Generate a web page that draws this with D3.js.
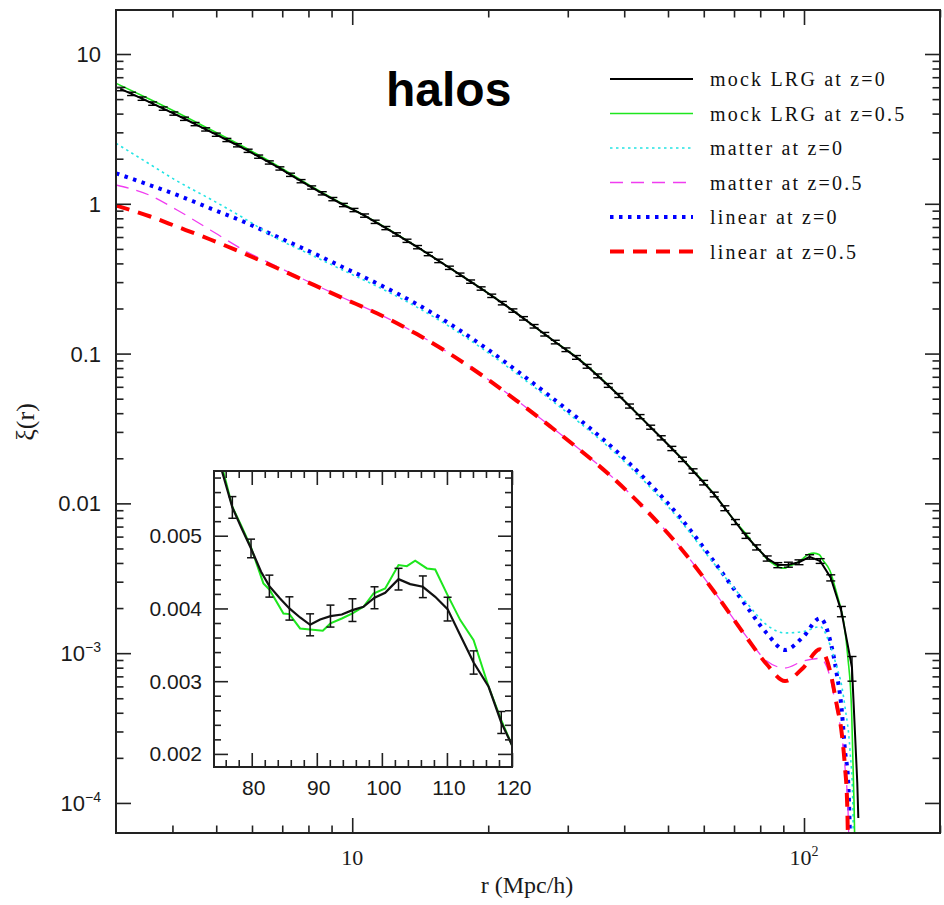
<!DOCTYPE html>
<html>
<head>
<meta charset="utf-8">
<script src="https://cdn.jsdelivr.net/npm/d3@7/dist/d3.min.js"></script>
<style>
  body { margin: 0; background: #fff; }
</style>
</head>
<body>
<svg id="graphique" width="944" height="905"></svg>
<script>
// ---- données ----

// mock LRG z=0 (points avec barres d'erreur)
const lrgR = [3.076, 3.248, 3.427, 3.617, 3.817, 4.029, 4.254, 4.489, 4.738, 5.002,
  5.279, 5.572, 5.883, 6.208, 6.554, 6.917, 7.301, 7.705, 8.133, 8.584,
  9.060, 9.562, 10.09, 10.65, 11.24, 11.87, 12.53, 13.22, 13.95, 14.73,
  15.54, 16.41, 17.32, 18.28, 19.29, 20.36, 21.49, 22.68, 23.94, 25.27,
  26.68, 28.15, 29.72, 31.36, 33.11, 34.94, 36.88, 38.92, 41.09, 43.36,
  45.77, 48.31, 50.99, 53.82, 56.81, 59.96, 63.29, 66.80, 70.51, 74.41,
  78.55, 82.90, 87.50, 92.35, 97.48, 102.9, 108.6, 114.6, 121.0, 127.7];
const lrgXi = [5.834, 5.420, 5.036, 4.667, 4.322, 4.004, 3.696, 3.406, 3.138, 2.893,
  2.667, 2.460, 2.259, 2.065, 1.888, 1.722, 1.562, 1.416, 1.285, 1.175,
  1.075, 0.9817, 0.9087, 0.8344, 0.7582, 0.6886, 0.6245, 0.5664, 0.5136, 0.4622,
  0.4157, 0.3740, 0.3363, 0.3024, 0.2720, 0.2431, 0.2171, 0.1937, 0.1719, 0.1522,
  0.1347, 0.1194, 0.1061, 0.09432, 0.08227, 0.07101, 0.06131, 0.05253, 0.04466, 0.03795,
  0.03226, 0.02740, 0.02326, 0.01968, 0.01645, 0.01376, 0.01147, 0.009284, 0.007511, 0.006078,
  0.005085, 0.004287, 0.003871, 0.003898, 0.004046, 0.00439, 0.004124, 0.003185, 0.00190, 0.00080];
const lrgErr = [0.15, 0.14, 0.13, 0.12, 0.11, 0.10, 0.093, 0.085, 0.078, 0.072,
  0.066, 0.061, 0.056, 0.051, 0.047, 0.043, 0.039, 0.035, 0.032, 0.029,
  0.027, 0.025, 0.023, 0.021, 0.019, 0.017, 0.016, 0.014, 0.013, 0.012,
  0.011, 0.0095, 0.0085, 0.0077, 0.0070, 0.0063, 0.0057, 0.0051, 0.0046, 0.0041,
  0.0037, 0.0033, 0.0030, 0.0027, 0.0024, 0.0021, 0.0018, 0.0016, 0.0014, 0.0012,
  0.0010, 0.00088, 0.00076, 0.00066, 0.00056, 0.00048, 0.00041, 0.00035, 0.00029, 0.00024,
  0.00020, 0.00017, 0.00015, 0.00015, 0.00015, 0.00015, 0.00015, 0.00015, 0.00015, 0.00015];
// fin de la courbe noire (sans barres)
const lrgTailR = [129.7, 131.2, 131.9];
const lrgTailXi = [0.00029, 0.000136, 0.0000794];

// mock LRG z=0.5
const lrg05R = [3.0, 3.573, 4.095, 4.851, 5.747, 6.813, 8.074, 9.567, 11.34, 13.90,
  16.48, 19.52, 23.14, 27.43, 31.95, 37.85, 44.87, 53.18, 63.04, 70.51,
  75.64, 77.02, 79.89, 82.71, 85.79, 88.97, 90.92, 92.10, 95.48, 98.71,
  102.56, 105.12, 108.20, 110.10, 114.10, 118.35, 120.0, 122.5, 125.0, 127.5, 129.0, 129.6];
const lrg05Xi = [6.375, 4.970, 4.069, 3.133, 2.402, 1.802, 1.321, 0.9924, 0.7503, 0.5171,
  0.3711, 0.2658, 0.1858, 0.1265, 0.09065, 0.05715, 0.03424, 0.02050, 0.01168, 0.00752,
  0.00588, 0.005398, 0.004839, 0.004261, 0.003922, 0.003711, 0.003693, 0.003794, 0.003931, 0.004206,
  0.004596, 0.004656, 0.004536, 0.004183, 0.003564, 0.002464, 0.002120, 0.0016, 0.00095, 0.0004, 0.000105, 0.00005];

// modèles : même grille en r, puis une fin propre à chaque courbe
const modelR = [3.0, 3.573, 4.095, 4.851, 5.747, 6.813, 8.074, 9.567, 11.34, 13.90,
  16.48, 19.52, 23.14, 27.43, 31.95, 37.85, 44.87, 53.18, 63.04, 74.68,
  82.70, 90.78, 99.65, 108.5, 114.2, 118.1, 121.2];
const matter0Xi = [2.535, 1.829, 1.420, 1.076, 0.8042, 0.5867, 0.4587, 0.3587, 0.2813, 0.2043,
  0.1502, 0.1066, 0.07332, 0.04946, 0.03436, 0.02224, 0.01351, 0.007686, 0.004000, 0.002163,
  0.001543, 0.001364, 0.001392, 0.001503, 0.001134, 0.000813, 0.000604];
const matter0TailR = [123.2, 126.4, 128.2, 128.6];
const matter0TailXi = [0.000440, 0.000226, 0.000105, 0.00005];

const matter05Xi = [1.335, 1.136, 0.9092, 0.6686, 0.4916, 0.3815, 0.2982, 0.2351, 0.1867, 0.1356,
  0.09970, 0.07080, 0.04865, 0.03282, 0.02280, 0.01475, 0.008960, 0.005100, 0.002620, 0.001283,
  0.000887, 0.000796, 0.000887, 0.000922, 0.000694, 0.000418, 0.000284];
const matter05TailR = [123.2, 125.3, 125.8];
const matter05TailXi = [0.000175, 0.000081, 0.00005];

const linear0Xi = [1.598, 1.329, 1.145, 0.9324, 0.7595, 0.6031, 0.4788, 0.3757, 0.2945, 0.2140,
  0.1573, 0.1117, 0.07677, 0.05180, 0.03597, 0.02328, 0.01416, 0.008049, 0.004138, 0.002043,
  0.001358, 0.001050, 0.001289, 0.001710, 0.001225, 0.000734, 0.000418];
const linear0TailR = [123.2, 125.3, 126.6];
const linear0TailXi = [0.000226, 0.000136, 0.00005];

const linear05Xi = [0.9743, 0.8226, 0.7034, 0.5777, 0.4674, 0.3727, 0.2945, 0.2333, 0.1858, 0.1349,
  0.09924, 0.07045, 0.04840, 0.03266, 0.02268, 0.01468, 0.008922, 0.005077, 0.002610, 0.001269,
  0.000843, 0.000652, 0.000800, 0.001062, 0.000761, 0.000456, 0.000292];
const linear05TailR = [123.2, 124.6, 125.2];
const linear05TailXi = [0.000175, 0.0001, 0.00005];

// encart (échelle linéaire)
const insetR = [75.38, 77.02, 78.46, 79.89, 81.43, 82.71, 84.35, 85.79, 87.43, 88.97,
  90.51, 92.10, 93.84, 95.48, 97.17, 98.87, 100.51, 102.56, 104.35, 106.30,
  108.20, 110.10, 112.05, 114.10, 116.41, 118.35, 120.0];
const insetLrg = [0.005903, 0.005389, 0.005100, 0.004825, 0.004504, 0.004307, 0.004138, 0.004000, 0.003876, 0.003775,
  0.003849, 0.003895, 0.003917, 0.003977, 0.004023, 0.004147, 0.004215, 0.004403, 0.004335, 0.004298,
  0.004160, 0.003991, 0.003633, 0.003257, 0.002923, 0.002432, 0.002120];
const insetErr = [null, 0.000149, null, 0.000128, null, 0.000151, null, 0.00016, null, 0.000151,
  null, 0.000151, null, 0.000156, null, 0.000151, null, 0.000149, null, 0.000149,
  null, 0.000163, null, 0.00016, null, 0.000151, null];
const insetGreenR = [75.3, 75.64, 77.02, 78.46, 79.89, 81.79, 82.71, 84.87, 85.79, 87.43, 88.97,
  90.92, 92.10, 93.84, 95.48, 97.17, 98.71, 100.51, 102.56, 103.84, 105.12,
  106.92, 108.20, 110.10, 112.05, 114.10, 116.41, 118.35, 120.0];
const insetGreen = [0.00600, 0.00588, 0.005398, 0.005123, 0.004839, 0.004344, 0.004261, 0.003931, 0.003922, 0.003725, 0.003711,
  0.003693, 0.003794, 0.003862, 0.003931, 0.004023, 0.004206, 0.004275, 0.004596, 0.004582, 0.004656,
  0.004550, 0.004536, 0.004183, 0.003840, 0.003564, 0.002923, 0.002464, 0.002120];

// graduations
const xMajor = [10, 100];
const xMajorLabels = ["10", "10^2"];
const xMinor = [4, 5, 6, 7, 8, 9, 20, 30, 40, 50, 60, 70, 80, 90, 200];
const yMajor = [10, 1, 0.1, 0.01, 0.001, 0.0001];
const yMajorLabels = ["10", "1", "0.1", "0.01", "10^-3", "10^-4"];
const insetXMajor = [80, 90, 100, 110, 120];
const insetYMajor = [0.002, 0.003, 0.004, 0.005];
const insetYLabels = ["0.002", "0.003", "0.004", "0.005"];

const legendLabels = ["mock LRG at z=0", "mock LRG at z=0.5", "matter at z=0",
  "matter at z=0.5", "linear at z=0", "linear at z=0.5"];

// ---- styles ----
const styles = {
  lrg0:     { color: "#000000", width: 2,   dash: null },
  lrg05:    { color: "#1ee61e", width: 1.6, dash: null },
  matter0:  { color: "#22e4e4", width: 1.6, dash: "2.5,3.5" },
  matter05: { color: "#f03cf0", width: 1.3, dash: "13,8" },
  linear0:  { color: "#0000ff", width: 4,   dash: "3.5,5.5" },
  linear05: { color: "#ff0000", width: 4,   dash: "14,9" }
};
const legendOrder = ["lrg0", "lrg05", "matter0", "matter05", "linear0", "linear05"];

const svg = d3.select("#graphique");

// échelles du graphe principal
const x = d3.scaleLog().domain([3, 200]).range([116, 940]);
const y = d3.scaleLog().domain([6.3e-5, 19.67]).range([833, 10]);

svg.append("defs").append("clipPath").attr("id", "clipMain")
  .append("rect").attr("x", 116).attr("y", 10).attr("width", 824).attr("height", 823);

const plot = svg.append("g").attr("clip-path", "url(#clipMain)");

const line = d3.line().x(d => x(d[0])).y(d => y(d[1]));
const smooth = d3.line().x(d => x(d[0])).y(d => y(d[1])).curve(d3.curveMonotoneX);

function zipR(rs, xs) { return rs.map((r, i) => [r, xs[i]]); }

function drawCurve(g, pts, st, lineGen) {
  const p = g.append("path")
    .datum(pts)
    .attr("d", lineGen)
    .attr("fill", "none")
    .attr("stroke", st.color)
    .attr("stroke-width", st.width);
  if (st.dash) p.attr("stroke-dasharray", st.dash);
  return p;
}

drawCurve(plot, zipR(modelR, linear0Xi).concat(zipR(linear0TailR, linear0TailXi)), styles.linear0, smooth);
drawCurve(plot, zipR(modelR, matter0Xi).concat(zipR(matter0TailR, matter0TailXi)), styles.matter0, smooth);
drawCurve(plot, zipR(modelR, matter05Xi).concat(zipR(matter05TailR, matter05TailXi)), styles.matter05, smooth);
drawCurve(plot, zipR(modelR, linear05Xi).concat(zipR(linear05TailR, linear05TailXi)), styles.linear05, smooth);
drawCurve(plot, zipR(lrg05R, lrg05Xi), styles.lrg05, smooth);
drawCurve(plot, zipR(lrgR, lrgXi).concat(zipR(lrgTailR, lrgTailXi)), styles.lrg0, line);

// barres d'erreur
const errData = lrgR.map((r, i) => ({ r: r, xi: lrgXi[i], e: lrgErr[i] }));
const eb = plot.append("g").attr("stroke", "#000").attr("stroke-width", 1.4);
eb.selectAll("line.v").data(errData).enter().append("line")
  .attr("x1", d => x(d.r)).attr("x2", d => x(d.r))
  .attr("y1", d => y(d.xi + d.e)).attr("y2", d => y(d.xi - d.e));
eb.selectAll("line.t").data(errData).enter().append("line")
  .attr("x1", d => x(d.r) - 4.5).attr("x2", d => x(d.r) + 4.5)
  .attr("y1", d => y(d.xi + d.e)).attr("y2", d => y(d.xi + d.e));
eb.selectAll("line.b").data(errData).enter().append("line")
  .attr("x1", d => x(d.r) - 4.5).attr("x2", d => x(d.r) + 4.5)
  .attr("y1", d => y(d.xi - d.e)).attr("y2", d => y(d.xi - d.e));

// axes : graduations vers l'intérieur sur les quatre côtés
function ticks(g, axis, vals, size) {
  g.call(axis.tickValues(vals).tickSize(size).tickFormat(""));
  g.select(".domain").remove();
  g.selectAll("text").remove();
  g.selectAll("line").attr("stroke", "#222").attr("stroke-width", 1.6);
}
function frameTicks(xs, ys, box, xMaj, xMin, yMaj, yMin, big, small) {
  const [l, t, r, b] = box;
  ticks(svg.append("g").attr("transform", `translate(0,${b})`), d3.axisBottom(xs), xMaj, -big);
  ticks(svg.append("g").attr("transform", `translate(0,${b})`), d3.axisBottom(xs), xMin, -small);
  ticks(svg.append("g").attr("transform", `translate(0,${t})`), d3.axisTop(xs), xMaj, -big);
  ticks(svg.append("g").attr("transform", `translate(0,${t})`), d3.axisTop(xs), xMin, -small);
  ticks(svg.append("g").attr("transform", `translate(${l},0)`), d3.axisLeft(ys), yMaj, -big);
  ticks(svg.append("g").attr("transform", `translate(${l},0)`), d3.axisLeft(ys), yMin, -small);
  ticks(svg.append("g").attr("transform", `translate(${r},0)`), d3.axisRight(ys), yMaj, -big);
  ticks(svg.append("g").attr("transform", `translate(${r},0)`), d3.axisRight(ys), yMin, -small);
  svg.append("rect").attr("x", l).attr("y", t).attr("width", r - l).attr("height", b - t)
    .attr("fill", "none").attr("stroke", "#222").attr("stroke-width", 2);
}

const yMinor = [];
[1e-4, 1e-3, 1e-2, 1e-1, 1, 10].forEach(dec => {
  for (let m = 2; m <= 9; m++) {
    const v = m * dec;
    if (v > 6.3e-5 && v < 19.67) yMinor.push(v);
  }
});
frameTicks(x, y, [116, 10, 940, 833], xMajor, xMinor, yMajor, yMinor, 15, 7.5);

// libellés avec exposant
function labelText(sel, txt, supSize) {
  const parts = txt.split("^");
  sel.text(parts[0]);
  if (parts[1]) {
    sel.append("tspan").attr("dy", -9).attr("font-size", supSize)
      .text(parts[1].replace("-", "\u2212"));
  }
}
yMajor.forEach((v, i) => {
  const t = svg.append("text")
    .attr("x", 101).attr("y", y(v) + 8)
    .attr("text-anchor", "end")
    .attr("font-family", "Liberation Sans, Arial, sans-serif")
    .attr("font-size", 22).attr("fill", "#1a1a1a");
  labelText(t, yMajorLabels[i], 14);
});
xMajor.forEach((v, i) => {
  const t = svg.append("text")
    .attr("x", x(v)).attr("y", 865)
    .attr("text-anchor", "middle")
    .attr("font-family", "Liberation Serif, Times New Roman, serif")
    .attr("font-size", 22).attr("fill", "#1a1a1a");
  labelText(t, xMajorLabels[i], 14);
});

svg.append("text").attr("x", 527).attr("y", 893).attr("text-anchor", "middle")
  .attr("font-family", "Liberation Serif, Times New Roman, serif").attr("font-size", 24)
  .attr("fill", "#1a1a1a").text("r (Mpc/h)");
svg.append("text").attr("transform", "translate(34,422) rotate(-90)").attr("text-anchor", "middle")
  .attr("font-family", "Liberation Serif, Times New Roman, serif").attr("font-size", 26)
  .attr("fill", "#1a1a1a").text("ξ(r)");

// titre
svg.append("text").attr("x", 386).attr("y", 106)
  .attr("font-family", "Liberation Sans, Arial, sans-serif").attr("font-weight", "bold")
  .attr("font-size", 48).attr("fill", "#000").text("halos");

// légende
const legend = svg.append("g");
legendOrder.forEach((key, i) => {
  const st = styles[key];
  const ly = 79 + i * 34.5;
  const l = legend.append("line").attr("x1", 610).attr("x2", 693).attr("y1", ly).attr("y2", ly)
    .attr("stroke", st.color).attr("stroke-width", st.width);
  if (st.dash) l.attr("stroke-dasharray", st.dash);
  legend.append("text").attr("x", 710).attr("y", ly + 7)
    .attr("font-family", "Liberation Serif, Times New Roman, serif").attr("font-size", 20)
    .attr("letter-spacing", 2.2)
    .attr("fill", "#111").text(legendLabels[i]);
});

// ---- encart ----
const xi = d3.scaleLinear().domain([74.2, 120]).range([214, 512]);
const yi = d3.scaleLinear().domain([0.00182, 0.00589]).range([767, 471]);

svg.append("rect").attr("x", 214).attr("y", 471).attr("width", 298).attr("height", 296).attr("fill", "#fff");
svg.select("defs").append("clipPath").attr("id", "clipInset")
  .append("rect").attr("x", 214).attr("y", 471).attr("width", 298).attr("height", 296);

const inset = svg.append("g").attr("clip-path", "url(#clipInset)");
const lineI = d3.line().x(d => xi(d[0])).y(d => yi(d[1]));
drawCurve(inset, zipR(insetGreenR, insetGreen), { color: styles.lrg05.color, width: 2, dash: null }, lineI);
drawCurve(inset, zipR(insetR, insetLrg), { color: "#111", width: 2.2, dash: null }, lineI);

const errI = insetR.map((r, i) => ({ r: r, xi: insetLrg[i], e: insetErr[i] })).filter(d => d.e !== null);
const ebi = inset.append("g").attr("stroke", "#111").attr("stroke-width", 1.5);
ebi.selectAll("line.v").data(errI).enter().append("line")
  .attr("x1", d => xi(d.r)).attr("x2", d => xi(d.r))
  .attr("y1", d => yi(d.xi + d.e)).attr("y2", d => yi(d.xi - d.e));
ebi.selectAll("line.t").data(errI).enter().append("line")
  .attr("x1", d => xi(d.r) - 4).attr("x2", d => xi(d.r) + 4)
  .attr("y1", d => yi(d.xi + d.e)).attr("y2", d => yi(d.xi + d.e));
ebi.selectAll("line.b").data(errI).enter().append("line")
  .attr("x1", d => xi(d.r) - 4).attr("x2", d => xi(d.r) + 4)
  .attr("y1", d => yi(d.xi - d.e)).attr("y2", d => yi(d.xi - d.e));

const insetXMinor = d3.range(76, 120, 2).filter(v => v % 10 !== 0);
const insetYMinor = d3.range(0.0020, 0.0059, 0.0002).map(v => +v.toFixed(4)).filter(v => !insetYMajor.includes(v));
frameTicks(xi, yi, [214, 471, 512, 767], insetXMajor, insetXMinor, insetYMajor, insetYMinor, 14, 7);

insetXMajor.forEach(v => {
  svg.append("text").attr("x", xi(v) + 2).attr("y", 795).attr("text-anchor", "middle")
    .attr("font-family", "Liberation Sans, Arial, sans-serif").attr("font-size", 21)
    .attr("fill", "#1a1a1a").text(v);
});
insetYMajor.forEach((v, i) => {
  svg.append("text").attr("x", 202).attr("y", yi(v) + 7.5).attr("text-anchor", "end")
    .attr("font-family", "Liberation Sans, Arial, sans-serif").attr("font-size", 21)
    .attr("fill", "#1a1a1a").text(insetYLabels[i]);
});
</script>
</body>
</html>
